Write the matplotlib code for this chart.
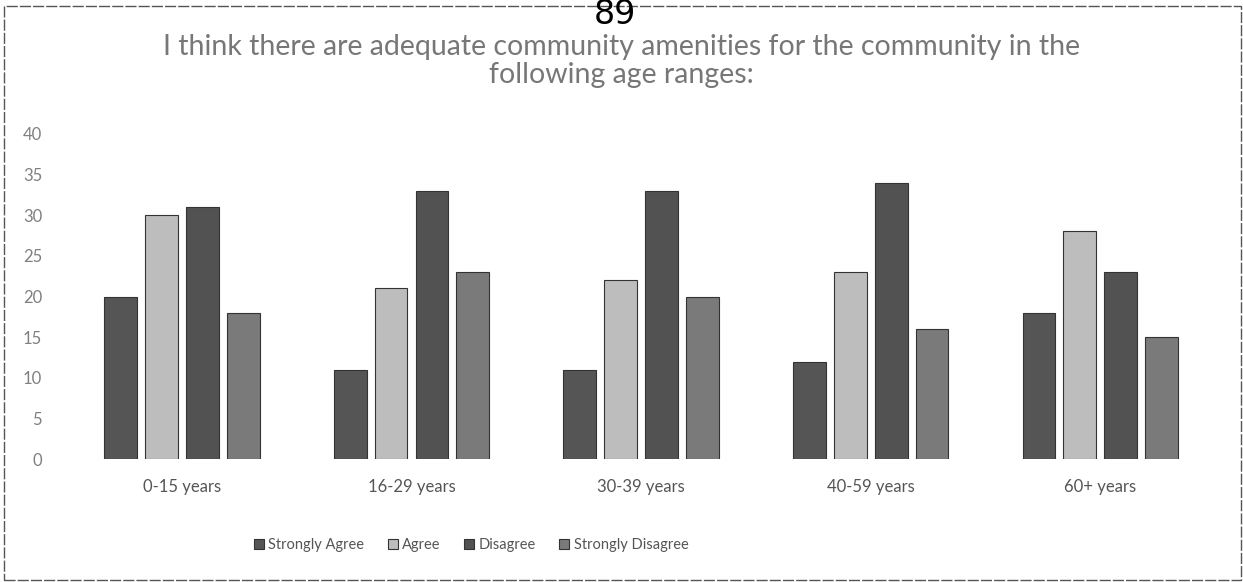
import numpy as np
import matplotlib.pyplot as plt
from matplotlib.patches import Rectangle

plt.rcParams['font.family'] = ['Lato', 'DejaVu Sans']

age_groups = ["0-15 years", "16-29 years", "30-39 years", "40-59 years", "60+ years"]
series_names = ["Strongly Agree", "Agree", "Disagree", "Strongly Disagree"]
strongly_agree = [20, 11, 11, 12, 18]
agree = [30, 21, 22, 23, 28]
disagree = [31, 33, 33, 34, 23]
strongly_disagree = [18, 23, 20, 16, 15]

colors = ["#555555", "#bdbdbd", "#525252", "#7a7a7a"]

fig = plt.figure(figsize=(12.43, 5.82), dpi=100)
ax = fig.add_axes([0.054, 0.211, 0.9235, 0.559])

x = np.arange(len(age_groups))
width = 0.143
step = 0.178
all_series = [strongly_agree, agree, disagree, strongly_disagree]
for i, vals in enumerate(all_series):
    ax.bar(x + (i - 1.5) * step, vals, width, color=colors[i],
           edgecolor="#333333", linewidth=0.8, label=series_names[i])

ax.set_xlim(-0.5, len(age_groups) - 0.5)
ax.set_ylim(0, 40)
ax.set_yticks(range(0, 41, 5))
ax.set_xticks(x)
ax.set_xticklabels(age_groups)
for s in ax.spines.values():
    s.set_visible(False)
ax.tick_params(axis='y', length=0, pad=18, labelsize=12, labelcolor="#808080")
ax.tick_params(axis='x', length=0, pad=14, labelsize=12, labelcolor="#555555")

fig.text(0.5, 0.9055, "I think there are adequate community amenities for the community in the",
         ha='center', va='baseline', fontsize=20.5, color="#777777")
fig.text(0.5, 0.857, "following age ranges:", ha='center', va='baseline', fontsize=20.5,
         color="#777777")
fig.text(0.495, 0.9588, "89", ha='center', va='baseline', fontsize=24, color="black",
         family='DejaVu Sans')

fig.legend(loc='center', bbox_to_anchor=(0.379, 0.064), ncol=4, frameon=False,
           fontsize=10.5, handlelength=0.7, handleheight=0.7, handletextpad=0.3,
           columnspacing=1.6, labelcolor="#555555")

# outer frame
fig.patches.append(Rectangle((0.0032, 0.0034), 0.995, 0.986, transform=fig.transFigure,
                             fill=False, edgecolor="#555555", linewidth=1.0,
                             linestyle=(0, (8, 1.5))))

fig.savefig("out.png", dpi=100)
